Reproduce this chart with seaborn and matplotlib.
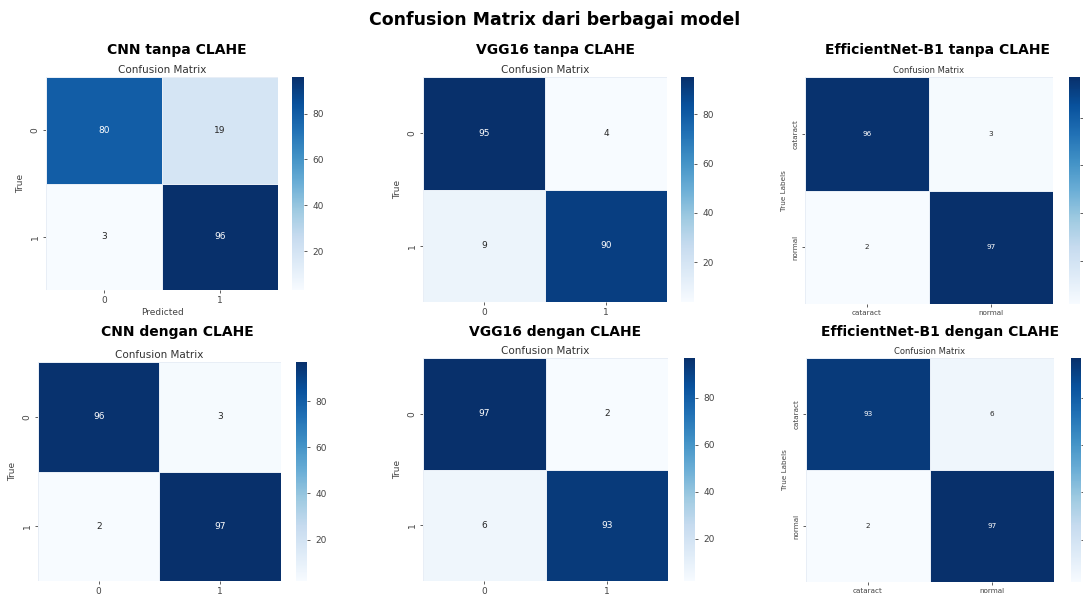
import numpy as np
import seaborn as sns
import matplotlib.pyplot as plt

# Data confusion matrix tiap model
cm_cnn_tanpa = [[80, 19], [3, 96]]
cm_vgg_tanpa = [[95, 4], [9, 90]]
cm_eff_tanpa = [[96, 3], [2, 97]]
cm_cnn_dengan = [[96, 3], [2, 97]]
cm_vgg_dengan = [[97, 2], [6, 93]]
cm_eff_dengan = [[93, 6], [2, 97]]

judul_panel = ['CNN tanpa CLAHE', 'VGG16 tanpa CLAHE', 'EfficientNet-B1 tanpa CLAHE',
               'CNN dengan CLAHE', 'VGG16 dengan CLAHE', 'EfficientNet-B1 dengan CLAHE']
label_angka = ['0', '1']
label_kelas = ['cataract', 'normal']

W, H = 1083, 598


def kotak(x0, y0, x1, y1):
    return [x0 / W, 1 - y1 / H, (x1 - x0) / W, (y1 - y0) / H]


sns.set_style('white')
fig = plt.figure(figsize=(W / 100, H / 100), dpi=100)

# (matrix, labels, heatmap box, cbar box, title pos, ylabel, xlabel, font scale, cbar labels)
panel = [
    (cm_cnn_tanpa, label_angka, (46, 77, 278, 290), (292, 77, 304, 290), (177, 50), 'True', 'Predicted', 1.0, True),
    (cm_vgg_tanpa, label_angka, (423, 77, 667, 302), (681, 77, 694, 302), (555, 50), 'True', None, 1.0, True),
    (cm_eff_tanpa, label_kelas, (805, 77, 1053, 304), (1069, 77, 1080, 304), (938, 50), 'True Labels', None, 0.8, False),
    (cm_cnn_dengan, label_angka, (38, 362, 281, 581), (296, 362, 307, 581), (177, 332), 'True', None, 1.0, True),
    (cm_vgg_dengan, label_angka, (423, 358, 668, 581), (684, 358, 695, 581), (555, 332), 'True', None, 1.0, True),
    (cm_eff_dengan, label_kelas, (806, 358, 1054, 582), (1071, 358, 1081, 582), (940, 332), 'True Labels', None, 0.8, False),
]

for judul, (cm, labels, hb, cb, tpos, ylab, xlab, sc, cb_lab) in zip(judul_panel, panel):
    ax = fig.add_axes(kotak(*hb))
    cax = fig.add_axes(kotak(*cb))
    sns.heatmap(np.array(cm), annot=True, fmt='d', cmap='Blues', ax=ax, cbar_ax=cax,
                xticklabels=labels, yticklabels=labels, linewidths=0.4, linecolor='#e8eef6',
                annot_kws={'size': 6.5 * sc})
    ax.set_title('Confusion Matrix', fontsize=7.5 * sc, color='#333333', pad=3)
    ax.set_ylabel(ylab, fontsize=6.5 * sc, color='#444444')
    if xlab:
        ax.set_xlabel(xlab, fontsize=6.5 * sc, color='#444444', labelpad=2)
    ax.tick_params(axis='both', labelsize=6.5 * sc, colors='#444444', length=2.5, width=0.6, pad=2)
    ax.tick_params(axis='x', bottom=True)
    ax.tick_params(axis='y', left=True)
    plt.setp(ax.get_yticklabels(), rotation=90, va='center')
    cax.tick_params(labelsize=6.5, colors='#444444', length=2.5, width=0.6, labelright=cb_lab)
    fig.text(tpos[0] / W, 1 - tpos[1] / H, judul, ha='center', va='center',
             fontsize=10, fontweight='bold', color='black')

fig.text(555 / W, 1 - 20 / H, 'Confusion Matrix dari berbagai model', ha='center', va='center',
         fontsize=12.5, fontweight='bold', color='black')

plt.savefig('out.png', dpi=100)
plt.close()
